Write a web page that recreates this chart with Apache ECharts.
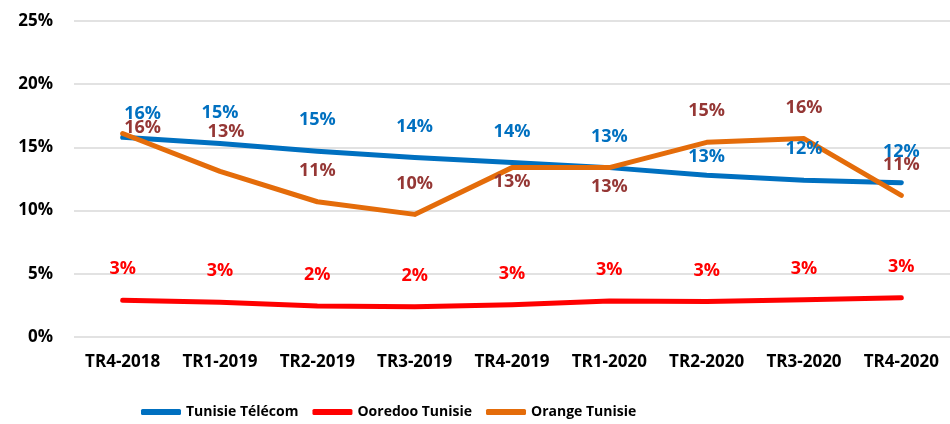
<!DOCTYPE html>
<html>
<head>
<meta charset="utf-8">
<script src="https://cdn.jsdelivr.net/npm/echarts@6/dist/echarts.min.js"></script>
<style>
  html, body { margin: 0; padding: 0; background: #fff; }
  #chart { width: 950px; height: 424px; }
</style>
</head>
<body>
<div id="chart"></div>
<script>
// trimestres
const quarters = ['TR4-2018', 'TR1-2019', 'TR2-2019', 'TR3-2019', 'TR4-2019', 'TR1-2020', 'TR2-2020', 'TR3-2020', 'TR4-2020'];
// parts (%)
const tunisieTelecom = [15.8, 15.3, 14.7, 14.2, 13.8, 13.4, 12.8, 12.4, 12.2];
const ooredoo = [2.9, 2.75, 2.45, 2.4, 2.55, 2.85, 2.8, 2.95, 3.1];
const orange = [16.1, 13.1, 10.7, 9.7, 13.4, 13.4, 15.4, 15.7, 11.2];
const yTicks = [0, 5, 10, 15, 20, 25];

const fontFamily = '"Open Sans", "Liberation Sans", sans-serif';

// décalages d'étiquettes (par série) pour éviter les chevauchements
const labelShifts = [
  {0: [20, 8], 6: [0, 13]},
  {},
  {0: [20, 25], 1: [6, -9], 4: [0, 45], 5: [0, 50]}
];

function makeSeries(name, values, color, labelColor) {
  return {
    name: name,
    type: 'line',
    data: values,
    symbol: 'circle',
    symbolSize: 0,
    showSymbol: true,
    lineStyle: {width: 5, color: color, cap: 'round', join: 'round'},
    itemStyle: {color: color},
    label: {
      show: true,
      position: 'top',
      distance: 22,
      color: labelColor,
      fontFamily: fontFamily,
      fontWeight: 'bold',
      fontSize: 18,
      formatter: p => Math.round(p.value) + '%'
    },
    labelLayout: function (params) {
      const s = labelShifts[params.seriesIndex][params.dataIndex];
      return s ? {dx: s[0], dy: s[1], hideOverlap: false} : {hideOverlap: false};
    },
    z: 2
  };
}

const myChart = echarts.init(document.getElementById('chart'));
myChart.setOption({
  animation: false,
  backgroundColor: '#fff',
  grid: {left: 74, top: 21, width: 880, bottom: 87, containLabel: false},
  legend: {
    left: 136,
    top: 400,
    itemWidth: 40,
    itemHeight: 6,
    itemGap: 14,
    icon: 'roundRect',
    textStyle: {fontFamily: fontFamily, fontWeight: 'bold', fontSize: 14, color: '#000'},
    data: ['Tunisie Télécom', 'Ooredoo Tunisie', 'Orange Tunisie']
  },
  xAxis: {
    type: 'category',
    data: quarters,
    boundaryGap: true,
    axisLine: {show: false},
    axisTick: {show: false},
    axisLabel: {interval: 0, margin: 17, color: '#000', fontFamily: fontFamily, fontWeight: 'bold', fontSize: 17}
  },
  yAxis: {
    type: 'value',
    min: yTicks[0],
    max: yTicks[yTicks.length - 1],
    interval: 5,
    axisLine: {show: false},
    axisTick: {show: false},
    splitLine: {lineStyle: {color: '#d9d9d9', width: 1.5}},
    axisLabel: {margin: 21, color: '#000', fontFamily: fontFamily, fontWeight: 'bold', fontSize: 17, formatter: '{value}%'}
  },
  series: [
    makeSeries('Tunisie Télécom', tunisieTelecom, '#0070C0', '#0070C0'),
    makeSeries('Ooredoo Tunisie', ooredoo, '#FF0000', '#FF0000'),
    makeSeries('Orange Tunisie', orange, '#E46C0A', '#953735')
  ]
});
window.addEventListener('resize', function () {
  myChart.resize();
});
</script>
</body>
</html>
